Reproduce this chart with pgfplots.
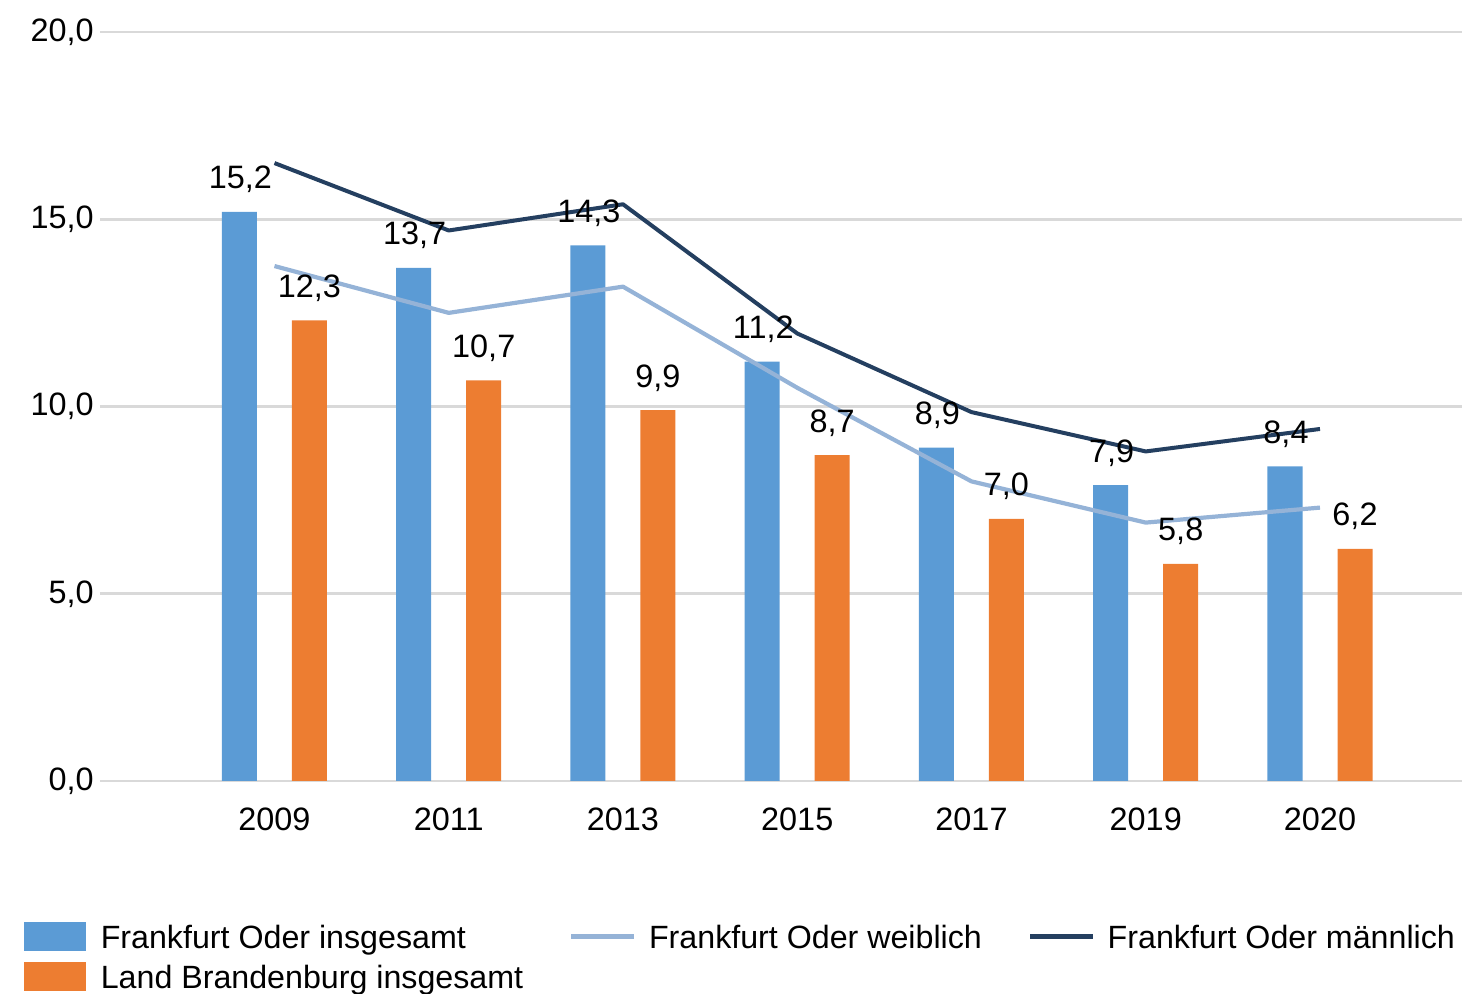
\documentclass[border=0pt]{standalone}
\usepackage{fontspec}
\setmainfont{Liberation Sans}
\usepackage{pgfplots}
\pgfplotsset{compat=1.18}
\definecolor{barblue}{HTML}{5B9BD5}
\definecolor{barorange}{HTML}{ED7D31}
\definecolor{lineweib}{HTML}{95B3D7}
\definecolor{linemann}{HTML}{243F60}
\definecolor{gridgray}{HTML}{D9D9D9}
\begin{document}
\begin{tikzpicture}
\path[use as bounding box] (-50pt,-106.5pt) rectangle (681pt,390.5pt);
\begin{axis}[
  scale only axis, width=681pt, height=374.5pt,
  xmin=-1.0014, xmax=6.815, ymin=0, ymax=20,
  ytick={0,5,10,15,20},
  xtick={0,1,2,3,4,5,6},
  xticklabels={2009,2011,2013,2015,2017,2019,2020},
  axis line style={draw=none}, major tick length=0pt,
  ymajorgrids, grid style={gridgray, line width=1.3pt},
  font=\fontsize{16.2}{19}\selectfont,
  /pgf/number format/fixed, /pgf/number format/fixed zerofill,
  /pgf/number format/precision=1, /pgf/number format/use comma,
  /pgf/number format/assume math mode=true,
  yticklabel style={anchor=base east, inner sep=0pt, xshift=-3pt, yshift=-4.75pt},
  xticklabel style={anchor=base, inner sep=0pt, yshift=-25pt},
  legend columns=3, legend cell align=left,
  legend style={at={(axis description cs:0,0)}, anchor=north west,
    xshift=-38pt, yshift=-70.5pt, draw=none, fill=none,
    inner sep=0pt, outer sep=0pt, row sep=5.5pt,
    nodes={inner sep=0pt, text height=0.716em, text depth=0pt},
    /tikz/every odd column/.append style={column sep=7.5pt},
    /tikz/every even column/.append style={column sep=24pt},
    font=\fontsize{16.1}{19}\selectfont},
]
\addplot[ybar, bar width=17.5pt, bar shift=-17.5pt, fill=barblue, draw=none, forget plot,
  nodes near coords, nodes near coords style={anchor=base, inner sep=0pt, xshift=-17pt, yshift=11.5pt, black}]
  coordinates {(0,15.2) (1,13.7) (2,14.3) (3,11.2) (4,8.9) (5,7.9) (6,8.4)};
\addplot[ybar, bar width=17.5pt, bar shift=17.5pt, fill=barorange, draw=none, forget plot,
  nodes near coords, nodes near coords style={anchor=base, inner sep=0pt, xshift=17.5pt, yshift=11.5pt, black}]
  coordinates {(0,12.3) (1,10.7) (2,9.9) (3,8.7) (4,7.0) (5,5.8) (6,6.2)};
\addplot[lineweib, line width=2.1pt, line join=round, mark=none, forget plot]
  coordinates {(0,13.75) (1,12.5) (2,13.2) (3,10.5) (4,8.0) (5,6.9) (6,7.3)};
\addplot[linemann, line width=2pt, line join=round, mark=none, forget plot]
  coordinates {(0,16.5) (1,14.7) (2,15.4) (3,11.95) (4,9.85) (5,8.8) (6,9.4)};
\addlegendimage{legend image code/.code={\fill[barblue] (0pt,-4.5pt) rectangle (30.5pt,9.5pt);}}
\addlegendentry{Frankfurt Oder insgesamt}
\addlegendimage{legend image code/.code={\fill[lineweib] (0pt,1.5pt) rectangle (31pt,3.5pt);}}
\addlegendentry{Frankfurt Oder weiblich}
\addlegendimage{legend image code/.code={\fill[linemann] (0pt,1.5pt) rectangle (31pt,3.5pt);}}
\addlegendentry{Frankfurt Oder männlich}
\addlegendimage{legend image code/.code={\fill[barorange] (0pt,-4.5pt) rectangle (30.5pt,9.5pt);}}
\addlegendentry{Land Brandenburg insgesamt}
\end{axis}
\end{tikzpicture}
\end{document}
